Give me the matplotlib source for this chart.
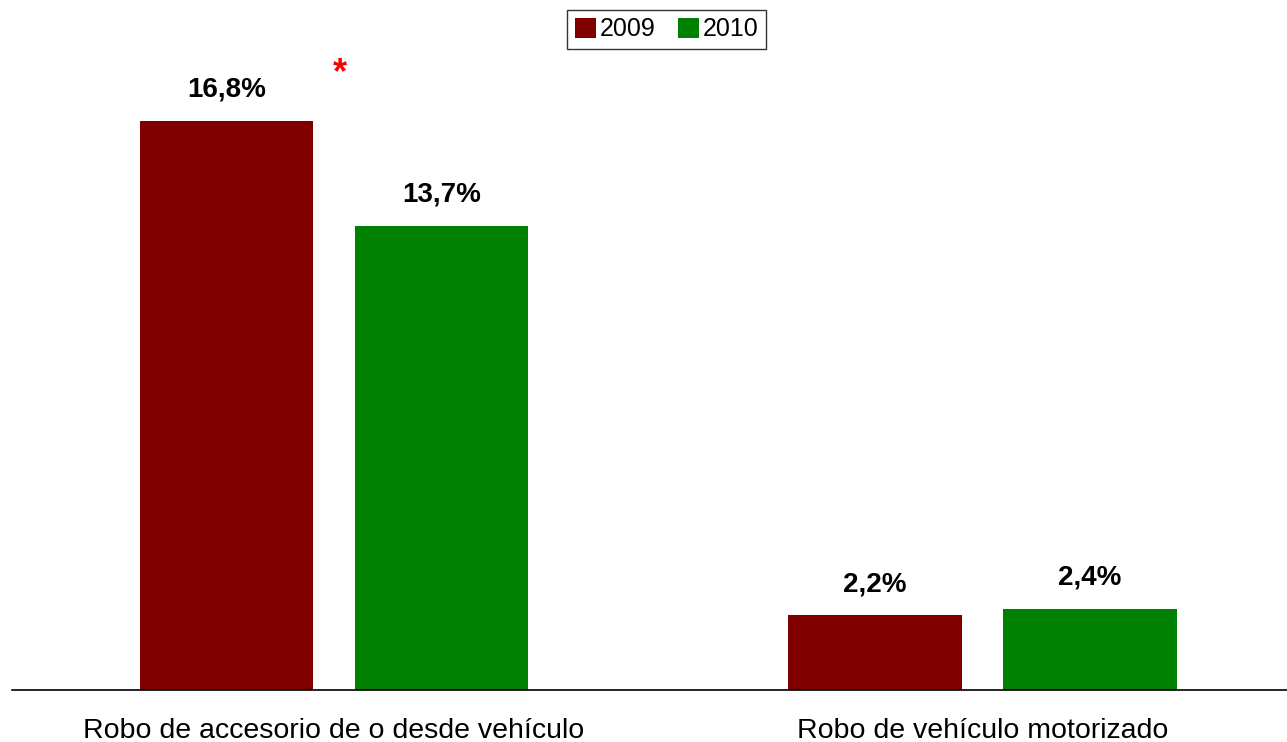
import numpy as np
import matplotlib.pyplot as plt

plt.rcParams['font.family'] = ['Liberation Sans', 'DejaVu Sans']

categories = ['Robo de accesorio de o desde vehículo', 'Robo de vehículo motorizado']
years = ['2009', '2010']
values_2009 = [16.8, 2.2]
values_2010 = [13.7, 2.4]
labels_2009 = ['16,8%', '2,2%']
labels_2010 = ['13,7%', '2,4%']

red = '#800000'
green = '#008000'

fig = plt.figure(figsize=(12.87, 7.42), dpi=100)
ax = fig.add_axes([12 / 1287, 52 / 742, 1 - 12 / 1287, 690 / 742])

x = np.arange(len(categories))
w = 0.268
off = 0.1658
b1 = ax.bar(x - off, values_2009, w, color=red, label=years[0])
b2 = ax.bar(x + off, values_2010, w, color=green, label=years[1])

for bars, labs in ((b1, labels_2009), (b2, labels_2010)):
    for rect, lab in zip(bars, labs):
        ax.annotate(lab, (rect.get_x() + rect.get_width() / 2, rect.get_height()),
                    xytext=(0, 13), textcoords='offset points',
                    ha='center', va='bottom', fontsize=20, fontweight='bold')

# significance marker
ax.text(0.009, 18.2, '*', color='red', fontsize=26, fontweight='bold',
        ha='center', va='center')

ax.set_xlim(-0.4965, 1.4695)
ax.set_ylim(0, 690 / 33.87)
ax.set_xticks(x)
ax.set_xticklabels(categories, fontsize=20.5)
ax.tick_params(axis='x', length=0, pad=20)
ax.set_yticks([])
for s in ('top', 'right', 'left'):
    ax.spines[s].set_visible(False)
ax.spines['bottom'].set_linewidth(1.2)

leg = fig.legend(loc='upper center', bbox_to_anchor=(667 / 1287, 1 - 10 / 742),
                 ncol=2, fontsize=18, frameon=True, fancybox=False,
                 handlelength=0.85, handleheight=0.85, handletextpad=0.15,
                 columnspacing=0.9, borderpad=0.3, borderaxespad=0)
leg.get_frame().set_edgecolor('black')
leg.get_frame().set_linewidth(1.0)

fig.savefig('out.png', dpi=100)
